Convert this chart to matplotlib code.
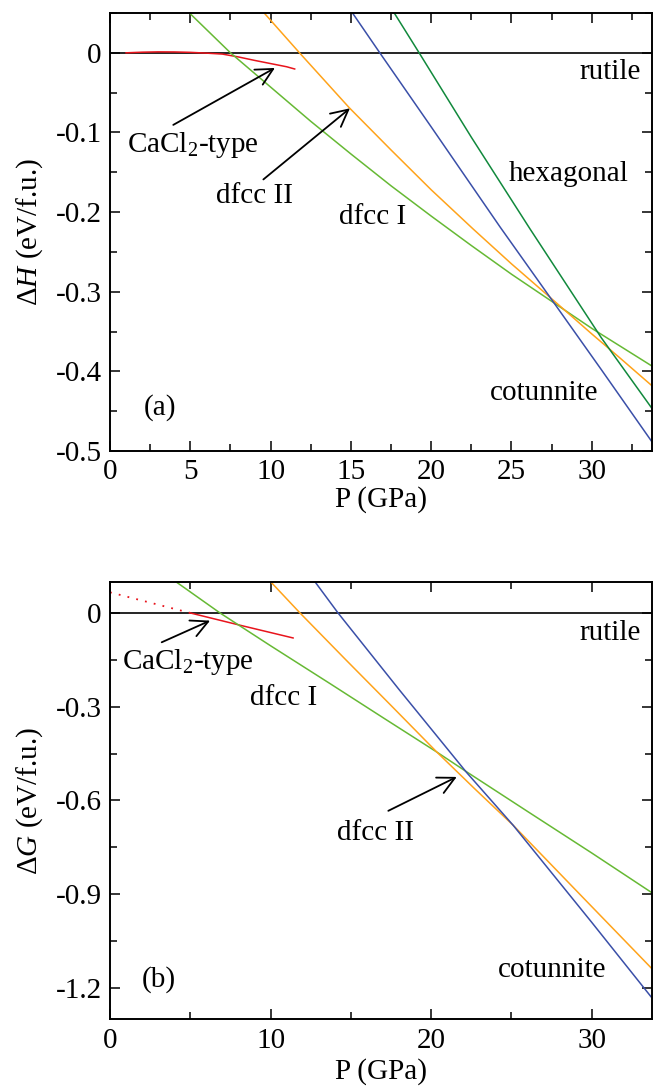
import matplotlib
matplotlib.use("Agg")
import matplotlib.pyplot as plt
from matplotlib.ticker import MultipleLocator

plt.rcParams['font.family'] = ['Liberation Serif', 'DejaVu Serif']
plt.rcParams['mathtext.fontset'] = 'custom'
plt.rcParams['mathtext.rm'] = 'Liberation Serif'
plt.rcParams['mathtext.it'] = 'Liberation Serif:italic'

# ---- panel (a): enthalpy difference vs rutile ----
p_cacl2_a = [1.0, 2.0, 3.0, 4.0, 5.0, 6.0, 7.0, 8.0, 9.0, 10.0, 11.0, 11.5]
h_cacl2 = [0.0, 0.0008, 0.0012, 0.0011, 0.0006, -0.0004, -0.0016, -0.0052, -0.0095, -0.0135, -0.0175, -0.0203]

p_dfcc1_a = [5.0, 7.5, 10.0, 12.5, 15.0, 17.5, 20.0, 22.5, 25.0, 27.5, 30.0, 33.8]
h_dfcc1 = [0.049, 0.0, -0.043, -0.086, -0.127, -0.167, -0.205, -0.242, -0.278, -0.312, -0.346, -0.394]

p_dfcc2_a = [9.6, 11.8, 14.9, 17.5, 20.0, 22.6, 25.0, 27.4, 30.0, 31.8, 33.8]
h_dfcc2 = [0.050, 0.0, -0.069, -0.122, -0.172, -0.221, -0.265, -0.307, -0.353, -0.384, -0.419]

p_cot_a = [15.1, 16.8, 20.0, 24.3, 27.4, 30.6, 33.8]
h_cot = [0.050, 0.0, -0.093, -0.219, -0.307, -0.398, -0.490]

p_hex_a = [17.7, 19.25, 22.5, 26.15, 30.6, 33.8]
h_hex = [0.050, 0.0, -0.106, -0.221, -0.358, -0.448]

# ---- panel (b): Gibbs free energy difference vs rutile ----
p_cacl2_dot = [0.0, 2.5, 5.0]
g_cacl2_dot = [0.066, 0.033, 0.0]
p_cacl2_b = [5.0, 8.2, 11.4]
g_cacl2 = [0.0, -0.0405, -0.080]

p_dfcc1_b = [4.1, 6.85, 10.0, 13.7, 17.0, 20.35, 22.2, 26.0, 30.0, 33.8]
g_dfcc1 = [0.1, 0.0, -0.105, -0.226, -0.335, -0.445, -0.508, -0.635, -0.768, -0.897]

p_dfcc2_b = [10.0, 11.83, 14.63, 17.5, 20.35, 22.7, 25.1, 29.5, 33.8]
g_dfcc2 = [0.1, 0.0, -0.147, -0.296, -0.445, -0.562, -0.679, -0.913, -1.141]

p_cot_b = [12.76, 14.2, 18.0, 22.2, 25.1, 30.0, 33.8]
g_cot = [0.1, 0.0, -0.245, -0.51, -0.679, -0.99, -1.235]

c_red = '#e8141c'
c_lgreen = '#66b934'
c_orange = '#ffa31a'
c_blue = '#3a4fa8'
c_dgreen = '#11893c'

fs = 21
lw = 1.1

fig = plt.figure(figsize=(6.53, 10.87), dpi=100)
axa = fig.add_axes([110/653, 1-451/1087, 542/653, 438/1087])
axb = fig.add_axes([110/653, 1-1019.3/1087, 542/653, 437.6/1087])

arrow = dict(arrowstyle='->,head_length=0.55,head_width=0.28', lw=1.3, color='k',
             mutation_scale=22, shrinkA=0, shrinkB=0)

# panel (a)
axa.axhline(0, color='k', lw=1.2)
axa.plot(p_cacl2_a, h_cacl2, color=c_red, lw=lw)
axa.plot(p_dfcc1_a, h_dfcc1, color=c_lgreen, lw=lw)
axa.plot(p_dfcc2_a, h_dfcc2, color=c_orange, lw=lw)
axa.plot(p_cot_a, h_cot, color=c_blue, lw=lw)
axa.plot(p_hex_a, h_hex, color=c_dgreen, lw=lw)
axa.set_xlim(0, 33.75)
axa.set_ylim(-0.5, 0.05)
axa.xaxis.set_major_locator(MultipleLocator(5))
axa.xaxis.set_minor_locator(MultipleLocator(2.5))
axa.yaxis.set_minor_locator(MultipleLocator(0.05))
axa.set_yticks([0, -0.1, -0.2, -0.3, -0.4, -0.5], ['0', '-0.1', '-0.2', '-0.3', '-0.4', '-0.5'])
axa.set_ylabel('Δ$H$ (eV/f.u.)', fontsize=fs)
axa.set_xlabel('P (GPa)', fontsize=fs)

axa.text(1.04, -0.124, 'CaCl$_2$-type', fontsize=fs, va='baseline')
axa.annotate('', xy=(10.27, -0.019), xytext=(3.94, -0.0905), arrowprops=arrow)
axa.text(6.6, -0.189, 'dfcc II', fontsize=fs, va='baseline')
axa.annotate('', xy=(14.94, -0.0697), xytext=(9.55, -0.159), arrowprops=arrow)
axa.text(14.28, -0.215, 'dfcc I', fontsize=fs, va='baseline')
axa.text(24.86, -0.161, 'hexagonal', fontsize=fs, va='baseline')
axa.text(29.22, -0.0324, 'rutile', fontsize=fs, va='baseline')
axa.text(23.66, -0.436, 'cotunnite', fontsize=fs, va='baseline')
axa.text(3.1, -0.445, '(a)', fontsize=fs, ha='center', va='center')

# panel (b)
axb.axhline(0, color='k', lw=1.2)
axb.plot(p_cacl2_dot, g_cacl2_dot, color=c_red, lw=1.3, ls=(0, (1, 4)))
axb.plot(p_cacl2_b, g_cacl2, color=c_red, lw=lw)
axb.plot(p_dfcc1_b, g_dfcc1, color=c_lgreen, lw=lw)
axb.plot(p_dfcc2_b, g_dfcc2, color=c_orange, lw=lw)
axb.plot(p_cot_b, g_cot, color=c_blue, lw=lw)
axb.set_xlim(0, 33.75)
axb.set_ylim(-1.3, 0.1)
axb.xaxis.set_major_locator(MultipleLocator(10))
axb.xaxis.set_minor_locator(MultipleLocator(5))
axb.yaxis.set_minor_locator(MultipleLocator(0.15))
axb.set_yticks([0, -0.3, -0.6, -0.9, -1.2], ['0', '-0.3', '-0.6', '-0.9', '-1.2'])
axb.set_ylabel('Δ$G$ (eV/f.u.)', fontsize=fs)
axb.set_xlabel('P (GPa)', fontsize=fs)

axb.text(0.73, -0.179, 'CaCl$_2$-type', fontsize=fs, va='baseline')
axb.annotate('', xy=(6.23, -0.0246), xytext=(3.22, -0.0938), arrowprops=arrow)
axb.text(8.72, -0.293, 'dfcc I', fontsize=fs, va='baseline')
axb.text(29.22, -0.086, 'rutile', fontsize=fs, va='baseline')
axb.text(14.12, -0.726, 'dfcc II', fontsize=fs, va='baseline')
axb.annotate('', xy=(21.59, -0.5246), xytext=(17.33, -0.633), arrowprops=arrow)
axb.text(24.18, -1.165, 'cotunnite', fontsize=fs, va='baseline')
axb.text(3.05, -1.173, '(b)', fontsize=fs, ha='center', va='center')

for ax in (axa, axb):
    for s in ax.spines.values():
        s.set_linewidth(1.4)
    ax.tick_params(which='both', direction='in', top=True, right=True,
                   labelsize=fs, width=1.1, pad=6)
    ax.tick_params(which='major', length=7.5)
    ax.tick_params(which='minor', length=5)
    ax.yaxis.set_label_coords(-0.12, 0.5)

axa.xaxis.set_label_coords(0.5, -0.080)
axb.xaxis.set_label_coords(0.5, -0.088)

fig.savefig('out.png', dpi=100)
